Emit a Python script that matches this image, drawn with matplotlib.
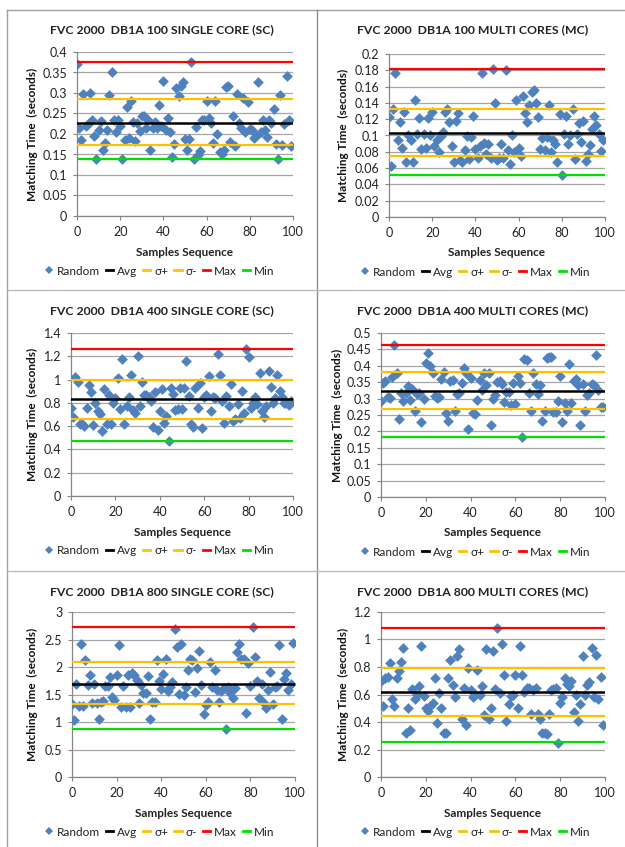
import matplotlib
matplotlib.use('Agg')
import matplotlib.pyplot as plt
from matplotlib.lines import Line2D
from matplotlib.ticker import MultipleLocator, FormatStrFormatter

plt.rcParams['font.family'] = ['Lato', 'DejaVu Sans']

W, H = 625, 847
samples = list(range(100))

# matching time per sample (seconds)
sc100 = [0.37, 0.215, 0.185, 0.297, 0.22, 0.225, 0.30, 0.235, 0.195, 0.14,
         0.21, 0.232, 0.162, 0.178, 0.21, 0.295, 0.352, 0.235, 0.205, 0.235,
         0.22, 0.14, 0.185, 0.265, 0.19, 0.28, 0.23, 0.183, 0.228, 0.208,
         0.243, 0.245, 0.215, 0.235, 0.162, 0.215, 0.23, 0.215, 0.27, 0.22,
         0.33, 0.21, 0.24, 0.205, 0.145, 0.175, 0.313, 0.293, 0.318, 0.328,
         0.188, 0.162, 0.188, 0.375, 0.138, 0.218, 0.148, 0.158, 0.235, 0.235,
         0.28, 0.238, 0.228, 0.178, 0.28, 0.2, 0.155, 0.15, 0.16, 0.315,
         0.318, 0.18, 0.245, 0.17, 0.298, 0.228, 0.215, 0.288, 0.205, 0.278,
         0.212, 0.21, 0.19, 0.195, 0.328, 0.205, 0.235, 0.21, 0.193, 0.235,
         0.228, 0.262, 0.175, 0.138, 0.295, 0.172, 0.225, 0.342, 0.235, 0.17]

mc100 = [0.123, 0.062, 0.132, 0.177, 0.095, 0.117, 0.085, 0.129, 0.068, 0.1,
         0.094, 0.067, 0.143, 0.102, 0.121, 0.083, 0.102, 0.085, 0.122, 0.1,
         0.129, 0.087, 0.095, 0.08, 0.099, 0.104, 0.129, 0.132, 0.117, 0.087,
         0.067, 0.118, 0.128, 0.07, 0.067, 0.082, 0.099, 0.071, 0.098, 0.124,
         0.083, 0.073, 0.087, 0.177, 0.091, 0.077, 0.09, 0.073, 0.181, 0.14,
         0.07, 0.073, 0.089, 0.073, 0.18, 0.082, 0.065, 0.1, 0.08, 0.144,
         0.085, 0.075, 0.148, 0.128, 0.117, 0.137, 0.153, 0.156, 0.14, 0.123,
         0.083, 0.097, 0.082, 0.098, 0.137, 0.08, 0.095, 0.09, 0.067, 0.126,
         0.052, 0.102, 0.124, 0.089, 0.1, 0.132, 0.071, 0.102, 0.115, 0.092,
         0.118, 0.069, 0.077, 0.088, 0.108, 0.124, 0.113, 0.102, 0.081, 0.094]

sc400 = [0.76, 0.68, 1.02, 0.98, 0.62, 0.62, 0.6, 0.76, 0.95, 0.89,
         0.61, 0.8, 0.73, 0.7, 0.56, 0.92, 0.62, 0.87, 0.62, 0.8,
         0.84, 1.01, 0.75, 1.18, 0.62, 0.77, 0.85, 1.04, 0.74, 0.71,
         1.2, 0.77, 0.98, 0.87, 0.87, 0.85, 0.82, 0.59, 0.89, 0.57,
         0.73, 0.92, 0.63, 0.69, 0.47, 0.93, 0.88, 0.74, 0.75, 0.93,
         0.75, 0.93, 1.16, 0.86, 0.62, 0.59, 0.93, 0.76, 0.97, 0.58,
         0.85, 0.87, 1.03, 0.73, 0.85, 0.84, 1.22, 1.04, 0.82, 0.63,
         0.86, 0.77, 0.96, 0.64, 0.66, 0.79, 0.67, 0.9, 0.71, 1.26,
         1.19, 0.76, 0.8, 0.85, 0.79, 1.06, 0.73, 0.68, 0.77, 1.07,
         0.94, 0.8, 0.84, 1.04, 0.9, 0.85, 0.8, 0.8, 0.78, 0.82]

mc400 = [0.293, 0.348, 0.355, 0.304, 0.302, 0.367, 0.462, 0.378, 0.237, 0.318,
         0.294, 0.318, 0.338, 0.296, 0.328, 0.261, 0.315, 0.318, 0.23, 0.3,
         0.408, 0.438, 0.398, 0.378, 0.308, 0.302, 0.305, 0.36, 0.38, 0.257,
         0.233, 0.355, 0.358, 0.263, 0.315, 0.318, 0.348, 0.393, 0.378, 0.207,
         0.362, 0.255, 0.252, 0.296, 0.356, 0.327, 0.377, 0.342, 0.378, 0.218,
         0.3, 0.31, 0.35, 0.355, 0.345, 0.29, 0.32, 0.32, 0.28, 0.347,
         0.284, 0.37, 0.347, 0.183, 0.42, 0.418, 0.317, 0.262, 0.378, 0.345,
         0.314, 0.34, 0.233, 0.263, 0.423, 0.428, 0.428, 0.26, 0.258, 0.293,
         0.368, 0.23, 0.286, 0.262, 0.405, 0.287, 0.355, 0.36, 0.34, 0.218,
         0.343, 0.261, 0.31, 0.317, 0.345, 0.34, 0.432, 0.325, 0.275, 0.273]

sc800 = [1.33, 1.03, 1.7, 1.29, 2.42, 1.3, 2.13, 1.68, 1.86, 1.34,
         1.7, 1.34, 1.05, 1.37, 1.39, 1.66, 1.66, 1.82, 1.45, 1.4,
         1.86, 2.4, 1.27, 1.66, 1.28, 1.86, 1.27, 1.9, 1.86, 1.77,
         1.35, 1.67, 1.53, 1.53, 1.83, 1.05, 1.37, 1.37, 2.12, 1.75,
         1.6, 1.88, 2.14, 1.57, 1.63, 1.73, 2.7, 2.37, 1.51, 2.41,
         1.49, 1.63, 1.95, 2.15, 2.12, 1.55, 1.99, 2.29, 1.67, 1.14,
         1.31, 1.37, 2.1, 1.64, 1.95, 1.59, 1.37, 1.56, 1.61, 0.87,
         1.63, 1.53, 1.43, 1.62, 2.28, 2.42, 2.14, 2.15, 1.17, 2.08,
         1.65, 2.72, 2.18, 1.75, 1.43, 1.7, 1.34, 1.26, 1.58, 1.91,
         1.33, 1.64, 1.66, 2.4, 1.05, 1.78, 1.9, 1.58, 1.69, 2.44]

mc800 = [0.7, 0.52, 0.72, 0.73, 0.83, 0.57, 0.52, 0.72, 0.77, 0.84,
         0.935, 0.32, 0.5, 0.34, 0.64, 0.57, 0.6, 0.66, 0.95, 0.59,
         0.5, 0.48, 0.52, 0.54, 0.72, 0.39, 0.61, 0.5, 0.32, 0.32,
         0.72, 0.85, 0.67, 0.58, 0.88, 0.93, 0.42, 0.65, 0.38, 0.79,
         0.63, 0.58, 0.6, 0.78, 0.6, 0.66, 0.45, 0.93, 0.42, 0.5,
         0.915, 0.64, 1.08, 0.61, 0.97, 0.745, 0.41, 0.53, 0.59, 0.6,
         0.745, 0.5, 0.95, 0.74, 0.62, 0.65, 0.65, 0.46, 0.63, 0.65,
         0.46, 0.42, 0.32, 0.32, 0.31, 0.46, 0.63, 0.64, 0.65, 0.25,
         0.54, 0.58, 0.72, 0.68, 0.66, 0.7, 0.47, 0.6, 0.41, 0.53,
         0.88, 0.6, 0.67, 0.69, 0.94, 0.58, 0.89, 0.57, 0.73, 0.38]

# reference lines: Avg, sigma+, sigma-, Max, Min
sc100_stats = [0.228, 0.285, 0.173, 0.375, 0.14]
mc100_stats = [0.103, 0.132, 0.075, 0.182, 0.052]
sc400_stats = [0.83, 0.995, 0.665, 1.265, 0.475]
mc400_stats = [0.322, 0.382, 0.268, 0.463, 0.184]
sc800_stats = [1.70, 2.10, 1.32, 2.72, 0.88]
mc800_stats = [0.615, 0.795, 0.445, 1.085, 0.255]

stat_names = ['Avg', 'σ+', 'σ-', 'Max', 'Min']
stat_colors = ['black', '#FFC000', '#FFC000', '#FF0000', '#00E000']
stat_widths = [1.8, 1.6, 1.6, 1.6, 1.6]

titles = ['FVC 2000  DB1A 100 SINGLE CORE (SC)', 'FVC 2000  DB1A 100 MULTI CORES (MC)',
          'FVC 2000  DB1A 400 SINGLE CORE (SC)', 'FVC 2000  DB1A 400 MULTI CORES (MC)',
          'FVC 2000  DB1A 800 SINGLE CORE (SC)', 'FVC 2000  DB1A 800 MULTI CORES (MC)']
series = [sc100, mc100, sc400, mc400, sc800, mc800]
stats = [sc100_stats, mc100_stats, sc400_stats, mc400_stats, sc800_stats, mc800_stats]
y_max = [0.4, 0.2, 1.4, 0.5, 3, 1.2]
y_step = [0.05, 0.02, 0.2, 0.05, 0.5, 0.2]

# plot areas in pixels: left, right, top, bottom
boxes = [(77, 293, 52, 216), (389, 605, 54, 217),
         (71, 293, 333, 496), (381, 605, 333, 497),
         (72, 295, 612, 777), (381, 605, 612, 777)]
title_y = [30, 30, 311, 311, 592, 592]
col_center = [162, 473]
legend_center = [160, 476]
ylabel_x = [32, 343, 32, 337, 32, 343]

fig = plt.figure(figsize=(W / 100, H / 100), dpi=100)
fig.patch.set_facecolor('white')


def fx(px):
    return px / W


def fy(py):
    return 1 - py / H


for i in range(6):
    x0, x1, yt, yb = boxes[i]
    ax = fig.add_axes([fx(x0), fy(yb), fx(x1 - x0), (yb - yt) / H])
    ax.scatter(samples, series[i], marker='D', s=30, color='#4F81BD', zorder=3,
               linewidths=0, label='Random')
    for v, name, c, lw in zip(stats[i], stat_names, stat_colors, stat_widths):
        ax.axhline(v, color=c, lw=lw, zorder=4, label=name)

    ax.set_xlim(0, 100)
    ax.set_ylim(0, y_max[i])
    ax.xaxis.set_major_locator(MultipleLocator(20))
    ax.yaxis.set_major_locator(MultipleLocator(y_step[i]))
    ax.yaxis.set_major_formatter(FormatStrFormatter('%g'))
    ax.grid(axis='y', color='#A6A6A6', lw=0.9, zorder=0)
    ax.set_axisbelow(True)
    for s in ['top', 'right']:
        ax.spines[s].set_visible(False)
    for s in ['left', 'bottom']:
        ax.spines[s].set_color('#868686')
        ax.spines[s].set_linewidth(0.9)
    ax.tick_params(length=3, width=0.8, color='#868686', labelsize=9,
                   labelcolor='#222222', pad=4)

    col = i % 2
    ax.text(fx(col_center[col]), fy(title_y[i]), titles[i], transform=fig.transFigure,
            ha='center', va='center', fontsize=8.8, fontweight='bold', color='#222222')

    ax.set_xlabel('Samples Sequence', fontsize=8.5, fontweight='bold', color='#222222')
    ax.xaxis.label.set_va('center')
    ax.xaxis.set_label_coords(fx((x0 + x1) / 2), fy(yb + 36), transform=fig.transFigure)
    ax.set_ylabel('Matching Time  (seconds)', fontsize=8.5, fontweight='bold', color='#111111')
    ax.yaxis.label.set_va('center')
    ax.yaxis.set_label_coords(fx(ylabel_x[i]), fy((yt + yb) / 2), transform=fig.transFigure)

    handles = [Line2D([], [], marker='D', ls='none', color='#4F81BD', ms=4, mew=0)]
    handles += [Line2D([], [], color=c, lw=2) for c in stat_colors]
    ax.legend(handles, ['Random'] + stat_names, loc='center', ncol=6, frameon=False,
              bbox_to_anchor=(fx(legend_center[col]), fy(yb + 55)),
              bbox_transform=fig.transFigure, fontsize=8.5, handlelength=0.6,
              handletextpad=0.3, columnspacing=0.55, borderpad=0,
              labelcolor='#222222')

# panel borders
border = dict(transform=fig.transFigure, lw=1)
fig.add_artist(Line2D([fx(7), 1], [fy(10), fy(10)], color='#A0A0A0', **border))
fig.add_artist(Line2D([fx(7), fx(7)], [fy(10), 0], color='#A0A0A0', **border))
fig.add_artist(Line2D([fx(317), fx(317)], [fy(10), 0], color='#909090', **border))
fig.add_artist(Line2D([fx(7), 1], [fy(290), fy(290)], color='#BBBBBB', **border))
fig.add_artist(Line2D([fx(7), 1], [fy(571), fy(571)], color='#BBBBBB', **border))

fig.savefig('out.png', dpi=100, facecolor='white')
